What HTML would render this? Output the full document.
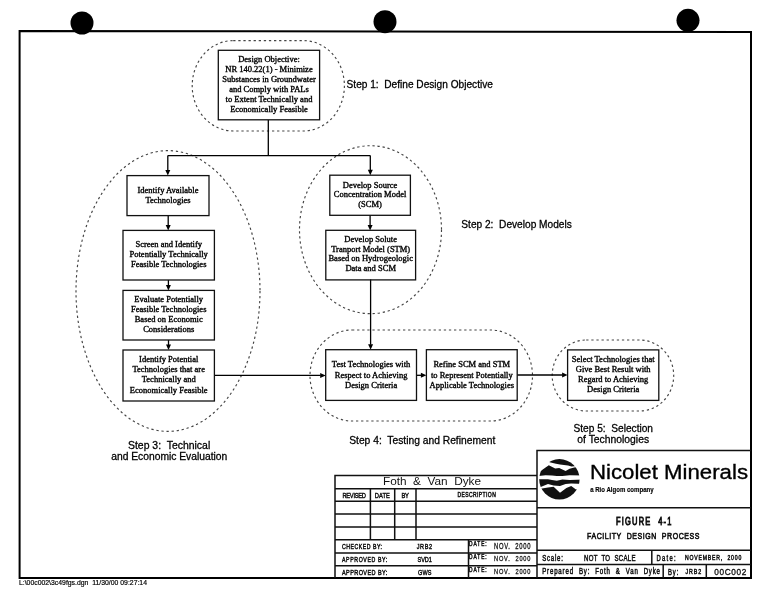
<!DOCTYPE html>
<html><head><meta charset="utf-8">
<style>
html,body{margin:0;padding:0;background:#fff;width:775px;height:600px;overflow:hidden}
svg{display:block;will-change:transform}
.bx{font-family:"Liberation Serif",serif;font-size:8.5px;fill:#000;stroke:#000;stroke-width:0.36px}
.st{font-family:"Liberation Sans",sans-serif;font-size:10.3px;fill:#000;stroke:#000;stroke-width:0.28px}
.tb{font-family:"Liberation Sans",sans-serif;font-weight:bold;fill:#111}
</style></head><body>
<svg width="775" height="600" viewBox="0 0 775 600">
<!-- punch holes -->
<circle cx="82" cy="23" r="11.5" fill="#000"/>
<circle cx="385" cy="21.7" r="11.5" fill="#000"/>
<circle cx="688" cy="20.3" r="11.5" fill="#000"/>
<!-- frame -->
<path d="M19.6 578 L19.6 31 L751 32 L751 578 Z" fill="none" stroke="#000" stroke-width="2"/>

<!-- dashed shapes -->
<g fill="none" stroke="#444" stroke-width="1.15" stroke-dasharray="2.3 2.8">
<rect x="192.2" y="40.6" width="152.2" height="90.4" rx="41" ry="45.2"/>
<ellipse cx="168" cy="291" rx="92" ry="140.4"/>
<ellipse cx="370.5" cy="229.7" rx="71" ry="84"/>
<rect x="310" y="330" width="222.5" height="91" rx="42" ry="45.5"/>
<rect x="552.2" y="340" width="121.5" height="71" rx="34" ry="35.5"/>
</g>

<!-- connectors -->
<path d="M268.3 120 V155.6 M167.8 155.6 H370.3" fill="none" stroke="#000" stroke-width="1.3"/>
<path d="M167.8 155.6 V170.6" fill="none" stroke="#000" stroke-width="1.3"/>
<path d="M165.3 170.1 L170.3 170.1 L167.8 175.6 Z" fill="#000"/>
<path d="M370.3 155.6 V170.2" fill="none" stroke="#000" stroke-width="1.3"/>
<path d="M367.8 169.7 L372.8 169.7 L370.3 175.2 Z" fill="#000"/>
<path d="M168.2 215.6 V225.4" fill="none" stroke="#000" stroke-width="1.3"/>
<path d="M165.7 224.9 L170.7 224.9 L168.2 230.4 Z" fill="#000"/>
<path d="M168.4 280 V285.4" fill="none" stroke="#000" stroke-width="1.3"/>
<path d="M165.9 284.9 L170.9 284.9 L168.4 290.4 Z" fill="#000"/>
<path d="M168.5 340 V345.0" fill="none" stroke="#000" stroke-width="1.3"/>
<path d="M166.0 344.5 L171.0 344.5 L168.5 350 Z" fill="#000"/>
<path d="M370.1 215.3 V225.4" fill="none" stroke="#000" stroke-width="1.3"/>
<path d="M367.6 224.9 L372.6 224.9 L370.1 230.4 Z" fill="#000"/>
<path d="M370.6 279.4 V344.7" fill="none" stroke="#000" stroke-width="1.3"/>
<path d="M368.1 344.2 L373.1 344.2 L370.6 349.7 Z" fill="#000"/>
<path d="M214.4 375.4 H320.7" fill="none" stroke="#000" stroke-width="1.3"/>
<path d="M320.2 372.9 L320.2 377.9 L325.7 375.4 Z" fill="#000"/>
<path d="M416.5 375.3 H421.4" fill="none" stroke="#000" stroke-width="1.3"/>
<path d="M420.9 372.8 L420.9 377.8 L426.4 375.3 Z" fill="#000"/>
<path d="M517.2 375.0 H562.6" fill="none" stroke="#000" stroke-width="1.3"/>
<path d="M562.1 372.5 L562.1 377.5 L567.6 375.0 Z" fill="#000"/>

<!-- boxes -->
<g fill="none" stroke="#111" stroke-width="1.3">
<rect x="218.3" y="50.3" width="101.3" height="69.5"/>
<rect x="127" y="175.6" width="82" height="40"/>
<rect x="123" y="230.4" width="91.4" height="49.6"/>
<rect x="123" y="290.4" width="91.4" height="49.6"/>
<rect x="123" y="350" width="91.4" height="51"/>
<rect x="329.8" y="175.2" width="80.6" height="40.1"/>
<rect x="325.8" y="230.3" width="89.8" height="49.6"/>
<rect x="325.7" y="349.7" width="90.8" height="50.7"/>
<rect x="426.4" y="349.7" width="90.8" height="50.7"/>
<rect x="567.6" y="349.9" width="91.2" height="50.5"/>
</g>

<g class="bx" text-anchor="middle">
<text x="269" y="62.3">Design Objective:</text>
<text x="269" y="72.2">NR 140.22(1) - Minimize</text>
<text x="269" y="82.1">Substances in Groundwater</text>
<text x="269" y="92">and Comply with PALs</text>
<text x="269" y="101.9">to Extent Technically and</text>
<text x="269" y="111.8">Economically Feasible</text>

<text x="168" y="193">Identify Available</text>
<text x="168" y="202.6">Technologies</text>

<text x="168.7" y="247.4">Screen and Identify</text>
<text x="168.7" y="257">Potentially Technically</text>
<text x="168.7" y="266.6">Feasible Technologies</text>

<text x="168.7" y="302.4">Evaluate Potentially</text>
<text x="168.7" y="312">Feasible Technologies</text>
<text x="168.7" y="322">Based on Economic</text>
<text x="168.7" y="332">Considerations</text>

<text x="168.7" y="362.4">Identify Potential</text>
<text x="168.7" y="372.4">Technologies that are</text>
<text x="168.7" y="382.4">Technically and</text>
<text x="168.7" y="392.6">Economically Feasible</text>

<text x="370.1" y="188">Develop Source</text>
<text x="370.1" y="197.3">Concentration Model</text>
<text x="370.1" y="206.7">(SCM)</text>

<text x="370.7" y="241.9">Develop Solute</text>
<text x="370.7" y="252">Tranport Model (STM)</text>
<text x="370.7" y="261.4">Based on Hydrogeologic</text>
<text x="370.7" y="271.3">Data and SCM</text>

<text x="371.1" y="367">Test Technologies with</text>
<text x="371.1" y="377.5">Respect to Achieving</text>
<text x="371.1" y="387.6">Design Criteria</text>

<text x="471.8" y="367">Refine SCM and STM</text>
<text x="471.8" y="377.5">to Represent Potentially</text>
<text x="471.8" y="387.6">Applicable Technologies</text>

<text x="613.2" y="361.5">Select Technologies that</text>
<text x="613.2" y="371.5">Give Best Result with</text>
<text x="613.2" y="381.8">Regard to Achieving</text>
<text x="613.2" y="392">Design Criteria</text>
</g>

<!-- step labels -->
<g class="st">
<text x="346.6" y="87.7" textLength="146.3" lengthAdjust="spacingAndGlyphs" xml:space="preserve">Step 1:  Define Design Objective</text>
<text x="461.3" y="227.9" textLength="110.5" lengthAdjust="spacingAndGlyphs" xml:space="preserve">Step 2:  Develop Models</text>
<text x="128" y="448.6" textLength="82.2" lengthAdjust="spacingAndGlyphs" xml:space="preserve">Step 3:  Technical</text>
<text x="111.2" y="460.3" textLength="116.1" lengthAdjust="spacingAndGlyphs">and Economic Evaluation</text>
<text x="349.2" y="443.6" textLength="146.1" lengthAdjust="spacingAndGlyphs" xml:space="preserve">Step 4:  Testing and Refinement</text>
<text x="573.5" y="431.7" textLength="79.5" lengthAdjust="spacingAndGlyphs" xml:space="preserve">Step 5:  Selection</text>
<text x="577.3" y="443.4" textLength="71.8" lengthAdjust="spacingAndGlyphs">of Technologies</text>
</g>

<!-- file path -->
<text x="19" y="585" font-family="Liberation Sans" font-size="7.8" fill="#000" stroke="#000" stroke-width="0.2" textLength="128" lengthAdjust="spacingAndGlyphs" xml:space="preserve">L:\00c002\3c49fgs.dgn  11/30/00 09:27:14</text>

<!-- title block left -->
<g fill="none" stroke="#111" stroke-width="1.5">
<path d="M335 578 V475.4 H537 M335 488.7 H537 M335 501.2 H537 M335 514.1 H537 M335 526.9 H537 M335 539.8 H537 M335 553 H537 M335 565.7 H537"/>
<path d="M370.4 488.7 V539.8 M394.7 488.7 V539.8 M416 488.7 V539.8 M468.5 539.8 V578"/>
</g>
<text x="383" y="485.2" font-family="Liberation Sans" font-size="11" fill="#111" textLength="98" lengthAdjust="spacingAndGlyphs" xml:space="preserve">Foth  &amp;  Van  Dyke</text>
<text transform="translate(342.4,497.7) scale(0.72,1)" font-family="Liberation Sans" font-weight="normal" font-size="7.99" fill="#111" stroke="#111" stroke-width="0.5" textLength="32.8" lengthAdjust="spacing" xml:space="preserve">REVISED</text>
<text transform="translate(374.7,497.7) scale(0.72,1)" font-family="Liberation Sans" font-weight="normal" font-size="7.99" fill="#111" stroke="#111" stroke-width="0.5" textLength="21.0" lengthAdjust="spacing" xml:space="preserve">DATE</text>
<text transform="translate(401.4,497.7) scale(0.72,1)" font-family="Liberation Sans" font-weight="normal" font-size="7.99" fill="#111" stroke="#111" stroke-width="0.5" textLength="10.4" lengthAdjust="spacing" xml:space="preserve">BY</text>
<text transform="translate(457.4,497.4) scale(0.72,1)" font-family="Liberation Sans" font-weight="normal" font-size="6.98" fill="#111" stroke="#111" stroke-width="0.5" textLength="53.3" lengthAdjust="spacing" xml:space="preserve">DESCRIPTION</text>
<text transform="translate(342,549) scale(0.72,1)" font-family="Liberation Sans" font-weight="normal" font-size="7.27" fill="#111" stroke="#111" stroke-width="0.5" textLength="55.6" lengthAdjust="spacing" xml:space="preserve">CHECKED BY:</text>
<text transform="translate(342,561.8) scale(0.72,1)" font-family="Liberation Sans" font-weight="normal" font-size="7.27" fill="#111" stroke="#111" stroke-width="0.5" textLength="62.9" lengthAdjust="spacing" xml:space="preserve">APPROVED BY:</text>
<text transform="translate(342,575) scale(0.72,1)" font-family="Liberation Sans" font-weight="normal" font-size="7.70" fill="#111" stroke="#111" stroke-width="0.5" textLength="62.9" lengthAdjust="spacing" xml:space="preserve">APPROVED BY:</text>
<text transform="translate(416.7,549) scale(0.72,1)" font-family="Liberation Sans" font-weight="normal" font-size="7.70" fill="#111" stroke="#111" stroke-width="0.5" textLength="21.3" lengthAdjust="spacing" xml:space="preserve">JRB2</text>
<text transform="translate(417.5,561.8) scale(0.72,1)" font-family="Liberation Sans" font-weight="normal" font-size="7.70" fill="#111" stroke="#111" stroke-width="0.5" textLength="20.1" lengthAdjust="spacing" xml:space="preserve">SVD1</text>
<text transform="translate(418,575) scale(0.72,1)" font-family="Liberation Sans" font-weight="normal" font-size="7.70" fill="#111" stroke="#111" stroke-width="0.5" textLength="18.6" lengthAdjust="spacing" xml:space="preserve">GWS</text>
<text transform="translate(469,546.4) scale(0.72,1)" font-family="Liberation Sans" font-weight="normal" font-size="6.83" fill="#111" stroke="#111" stroke-width="0.5" textLength="24.6" lengthAdjust="spacing" xml:space="preserve">DATE:</text>
<text transform="translate(469,558.6) scale(0.72,1)" font-family="Liberation Sans" font-weight="normal" font-size="6.83" fill="#111" stroke="#111" stroke-width="0.5" textLength="24.6" lengthAdjust="spacing" xml:space="preserve">DATE:</text>
<text transform="translate(469,572.2) scale(0.72,1)" font-family="Liberation Sans" font-weight="normal" font-size="6.83" fill="#111" stroke="#111" stroke-width="0.5" textLength="24.6" lengthAdjust="spacing" xml:space="preserve">DATE:</text>
<text transform="translate(494,548.7) scale(0.72,1)" font-family="Liberation Sans" font-weight="normal" font-size="8.14" fill="#111" stroke="#111" stroke-width="0.3" textLength="50.7" lengthAdjust="spacing" xml:space="preserve">NOV.  2000</text>
<text transform="translate(494,561.3) scale(0.72,1)" font-family="Liberation Sans" font-weight="normal" font-size="7.85" fill="#111" stroke="#111" stroke-width="0.3" textLength="50.7" lengthAdjust="spacing" xml:space="preserve">NOV.  2000</text>
<text transform="translate(494,574.2) scale(0.72,1)" font-family="Liberation Sans" font-weight="normal" font-size="7.85" fill="#111" stroke="#111" stroke-width="0.3" textLength="50.7" lengthAdjust="spacing" xml:space="preserve">NOV.  2000</text>
<text transform="translate(616,524.8) scale(0.66,1)" font-family="Liberation Sans" font-weight="normal" font-size="11.34" fill="#111" stroke="#111" stroke-width="0.95" textLength="83.9" lengthAdjust="spacing" xml:space="preserve">FIGURE  4-1</text>
<text transform="translate(587,539.4) scale(0.72,1)" font-family="Liberation Sans" font-weight="normal" font-size="9.74" fill="#111" stroke="#111" stroke-width="0.65" textLength="156.2" lengthAdjust="spacing" xml:space="preserve">FACILITY  DESIGN  PROCESS</text>
<text transform="translate(542.2,561.3) scale(0.72,1)" font-family="Liberation Sans" font-weight="normal" font-size="8.43" fill="#111" stroke="#111" stroke-width="0.5" textLength="28.7" lengthAdjust="spacing" xml:space="preserve">Scale:</text>
<text transform="translate(584,561.3) scale(0.72,1)" font-family="Liberation Sans" font-weight="normal" font-size="8.43" fill="#111" stroke="#111" stroke-width="0.5" textLength="71.5" lengthAdjust="spacing" xml:space="preserve">NOT  TO  SCALE</text>
<text transform="translate(656.6,561.1) scale(0.72,1)" font-family="Liberation Sans" font-weight="normal" font-size="8.14" fill="#111" stroke="#111" stroke-width="0.5" textLength="26.4" lengthAdjust="spacing" xml:space="preserve">Date:</text>
<text transform="translate(685,559.8) scale(0.72,1)" font-family="Liberation Sans" font-weight="normal" font-size="7.12" fill="#111" stroke="#111" stroke-width="0.5" textLength="78.1" lengthAdjust="spacing" xml:space="preserve">NOVEMBER,  2000</text>
<text transform="translate(542.2,574.3) scale(0.72,1)" font-family="Liberation Sans" font-weight="normal" font-size="8.43" fill="#111" stroke="#111" stroke-width="0.5" textLength="163.6" lengthAdjust="spacing" xml:space="preserve">Prepared  By:  Foth  &amp;  Van  Dyke</text>
<text transform="translate(668,574.6) scale(0.72,1)" font-family="Liberation Sans" font-weight="normal" font-size="8.14" fill="#111" stroke="#111" stroke-width="0.5" textLength="14.4" lengthAdjust="spacing" xml:space="preserve">By:</text>
<text transform="translate(685.6,573.5) scale(0.72,1)" font-family="Liberation Sans" font-weight="normal" font-size="7.41" fill="#111" stroke="#111" stroke-width="0.5" textLength="21.7" lengthAdjust="spacing" xml:space="preserve">JRB2</text>
<text transform="translate(714.3,574.9) scale(0.9,1)" font-family="Liberation Sans" font-weight="normal" font-size="9.16" fill="#111" stroke="#111" stroke-width="0.35" textLength="35.6" lengthAdjust="spacing" xml:space="preserve">00C002</text>
<!-- title block right -->
<g fill="none" stroke="#111" stroke-width="1.5">
<path d="M537 578 V450.6 H751 M537 507.7 H751 M537 550.2 H751 M537 564.5 H751 M651.8 550.2 V564.5 M663.2 564.5 V578 M706.3 564.5 V578"/>
</g>
<!-- logo -->
<defs><clipPath id="lc"><circle cx="559.4" cy="479.3" r="20.2"/></clipPath></defs>
<g>
<circle cx="559.4" cy="479.3" r="20.2" fill="#111"/>
<polygon fill="#fff" points="548.0,459.2 549.6,462.2 556.0,463.8 560.0,464.6 564.0,465.0 568.0,465.4 571.6,466.4 577.6,466.0 577.6,467.2 575.2,467.2 569.6,468.8 565.6,471.0 559.2,468.0 555.2,468.4 548.8,465.2 539.2,472.0 538.7,464.0"/>
<polygon fill="#fff" points="538.7,476.0 545.6,475.2 552.0,475.6 556.8,476.0 562.4,476.0 569.6,475.2 584.0,475.6 584.0,479.6 569.6,480.0 562.4,479.6 556.8,480.8 552.0,480.0 548.0,479.2 538.7,479.2"/>
<polygon fill="#fff" points="538.7,487.6 540.0,487.2 548.0,484.0 553.6,485.6 560.0,486.0 565.6,484.0 571.2,483.6 584.0,484.0 584.0,488.0 576.0,489.6 571.2,486.0 566.4,488.0 560.0,492.8 553.6,486.8 548.0,487.6 542.0,488.4 538.7,488.8"/>
</g>
<text x="590" y="479.3" font-family="Liberation Sans" font-size="20.5" fill="#000" stroke="#000" stroke-width="0.35" textLength="158" lengthAdjust="spacingAndGlyphs">Nicolet Minerals</text>
<text x="590.2" y="491.6" font-family="Liberation Sans" font-weight="bold" font-size="6.4" fill="#000" stroke="#000" stroke-width="0.15" textLength="63.4" lengthAdjust="spacingAndGlyphs">a Rio Algom company</text>

</svg>
</body></html>
